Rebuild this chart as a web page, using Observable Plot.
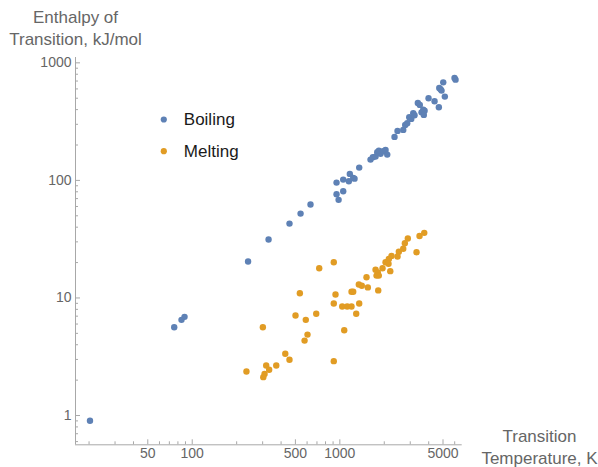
<!DOCTYPE html>
<html><head><meta charset="utf-8">
<script src="https://cdn.jsdelivr.net/npm/d3@7"></script>
<script src="https://cdn.jsdelivr.net/npm/@observablehq/plot@0.6"></script>
<style>body{margin:0;background:#fff}</style>
</head><body><div id="chart"></div>
<script>
const seriesNames = ["Boiling", "Melting"];
const seriesColors = ["#5E81B5", "#E19C24"];

const boilingT = [20.3, 75.5, 84.6, 88.7, 239, 329, 456, 542, 633, 950, 950, 981, 1054, 1054, 1169, 1232, 1258, 1151, 1353, 1614, 1674, 1746, 1792, 1887, 1837, 1968, 2040, 2095, 2347, 2460, 2689, 2773, 2861, 2953, 3046, 3143, 3206, 3377, 3483, 3673, 3750, 3577, 3707, 3990, 4382, 4686, 4716, 4812, 4887, 5018, 5145, 5985, 6081];
const boilingH = [0.904, 5.63, 6.51, 6.91, 20.4, 31.4, 42.9, 52.2, 62.3, 95.8, 76.2, 68.3, 80.8, 101.6, 113.6, 105, 103.5, 98.3, 128.5, 150.3, 157.2, 159.4, 173.4, 168.1, 179.2, 176.8, 181.6, 165.7, 234.4, 263.6, 268.9, 296.5, 305.9, 344.1, 333.4, 372.1, 357.8, 456, 438.5, 400, 392, 379.3, 360.6, 499, 470.7, 418.4, 611.8, 595.3, 580.3, 682.4, 516, 744, 719.5];

const meltingT = [725, 910, 536, 935, 910, 501, 588, 692, 301, 604, 577, 427, 456, 910, 317, 371, 332, 233, 309, 303, 3732, 3467, 2888, 2757, 2689, 2510, 2460, 3308, 2240, 2148, 2040, 2138, 1947, 2196, 1746, 1809, 1773, 1837, 1516, 1345, 1409, 1548, 1820, 1200, 1232, 1038, 1122, 1200, 1353, 1291, 1071];
const meltingH = [17.9, 20.1, 10.96, 10.7, 8.96, 7.09, 6.51, 7.33, 5.63, 4.88, 4.34, 3.35, 2.98, 2.90, 2.66, 2.66, 2.45, 2.37, 2.26, 2.12, 35.8, 33.7, 32.0, 29.2, 26.2, 24.7, 22.5, 24.5, 22.8, 21.5, 20.1, 19.5, 17.9, 16.9, 17.4, 16.5, 15.5, 15.5, 15.0, 13.0, 12.7, 12.3, 11.6, 11.3, 11.3, 8.45, 8.45, 8.45, 8.96, 7.33, 5.31];

const xTickLabels = [50, 100, 500, 1000, 5000];
const xMinorTicks = [20, 30, 40, 60, 70, 80, 90, 200, 300, 400, 600, 700, 800, 900, 2000, 3000, 4000, 6000];
const yTickLabels = [1, 10, 100, 1000];
const yMinorTicks = [0.6, 0.7, 0.8, 0.9, 2, 3, 4, 5, 6, 7, 8, 9, 20, 30, 40, 50, 60, 70, 80, 90, 200, 300, 400, 500, 600, 700, 800, 900];

const xLabel = "Transition\nTemperature, K";
const yLabel = "Enthalpy of\nTransition, kJ/mol";

const xDomain = [16.19, 6745];
const yDomain = [0.5636, 1110];

const data = [
  ...boilingT.map((t, i) => ({T: t, H: boilingH[i], series: seriesNames[0]})),
  ...meltingT.map((t, i) => ({T: t, H: meltingH[i], series: seriesNames[1]}))
];

const W = 598, H = 467;
const mL = 75, mR = 136.3, mT = 57, mB = 22.7;
const frameW = W - mL - mR, frameH = H - mT - mB;
const axisColor = "#a8a8a8";
const textColor = "#666666";

const legendMarks = seriesNames.flatMap((name, i) => [
  Plot.dot([name], {frameAnchor: "top-left", dx: 88.3, dy: 62 + i * 31.7, r: 3.1, fill: seriesColors[i]}),
  Plot.text([name], {frameAnchor: "top-left", dx: 108.3, dy: 62 + i * 31.7, text: d => d, textAnchor: "start", lineAnchor: "middle", fontSize: 17, fill: "#1a1a1a"})
]);

const chart = Plot.plot({
  width: W, height: H,
  marginLeft: mL, marginRight: mR, marginTop: mT, marginBottom: mB,
  style: {fontFamily: "'Liberation Sans', Arial, sans-serif", background: "#fff"},
  x: {type: "log", domain: xDomain, axis: null},
  y: {type: "log", domain: yDomain, axis: null},
  color: {domain: seriesNames, range: seriesColors},
  marks: [
    Plot.ruleX([xDomain[0]], {stroke: axisColor, strokeWidth: 1}),
    Plot.ruleY([yDomain[0]], {stroke: axisColor, strokeWidth: 1}),
    Plot.tickX(xTickLabels, {x: d => d, insetTop: frameH - 5, stroke: axisColor}),
    Plot.tickX(xMinorTicks, {x: d => d, insetTop: frameH - 3, stroke: axisColor}),
    Plot.tickY(yTickLabels, {y: d => d, insetRight: frameW - 5, stroke: axisColor}),
    Plot.tickY(yMinorTicks, {y: d => d, insetRight: frameW - 3, stroke: axisColor}),
    Plot.text(xTickLabels, {x: d => d, text: d => String(d), frameAnchor: "bottom", dy: 13, fontSize: 14, fill: textColor}),
    Plot.text(yTickLabels, {y: d => d, text: d => String(d), frameAnchor: "left", dx: -4, textAnchor: "end", fontSize: 14, fill: textColor}),
    Plot.text([yLabel], {frameAnchor: "top-left", dy: -12.7, text: d => d, textAnchor: "middle", lineAnchor: "bottom", lineHeight: 1.27, fontSize: 17, fill: textColor}),
    Plot.text([xLabel], {frameAnchor: "bottom-right", dx: 77.3, dy: 18.7, text: d => d, textAnchor: "middle", lineAnchor: "bottom", lineHeight: 1.29, fontSize: 17, fill: textColor}),
    Plot.dot(data, {x: "T", y: "H", fill: "series", r: 3.2}),
    ...legendMarks
  ]
});
document.getElementById("chart").appendChild(chart);
</script>
</body></html>
